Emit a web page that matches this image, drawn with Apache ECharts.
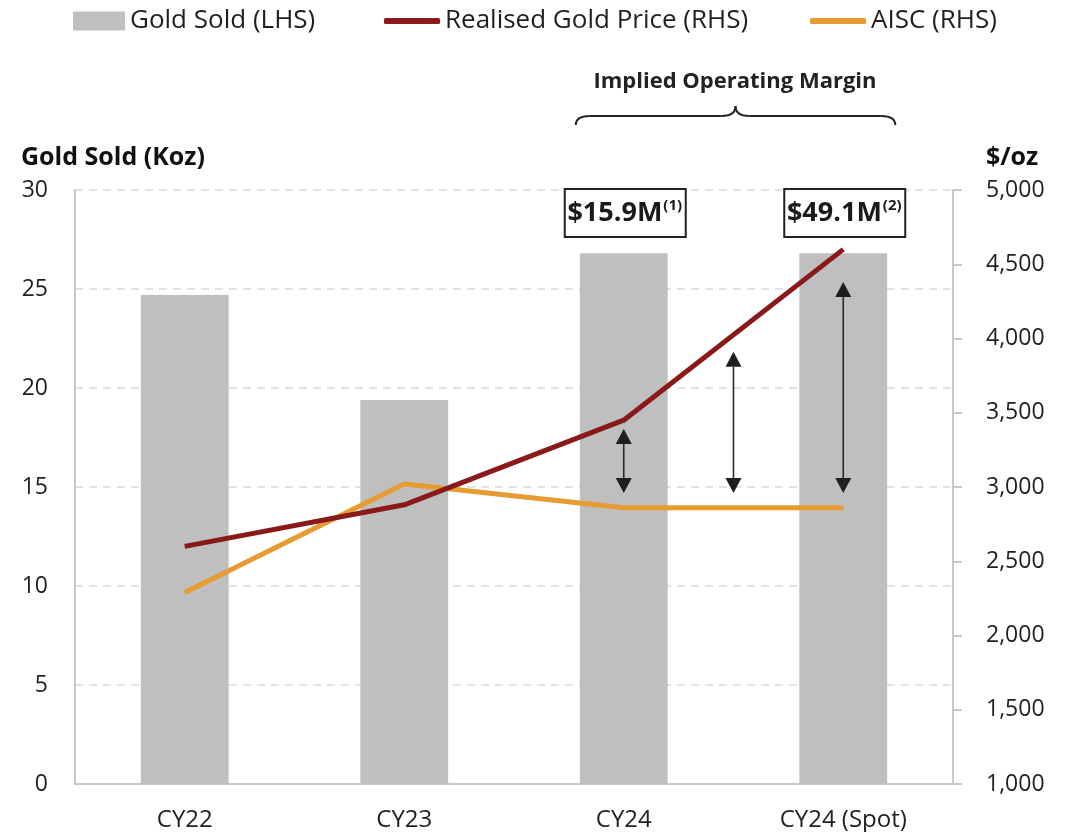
<!DOCTYPE html>
<html>
<head>
<meta charset="utf-8">
<script src="https://cdn.jsdelivr.net/npm/echarts@6/dist/echarts.min.js"></script>
<style>
html,body{margin:0;padding:0;background:#fff;}
#main{width:1069px;height:832px;}
</style>
</head>
<body>
<div id="main"></div>
<script>
// data
var years = ['CY22', 'CY23', 'CY24', 'CY24 (Spot)'];
var goldSold = [24.7, 19.4, 26.8, 26.8];          // Koz, LHS
var goldPrice = [2600, 2880, 3450, 4600];         // $/oz, RHS
var aisc = [2290, 3020, 2860, 2860];              // $/oz, RHS
var leftTicks = {min: 0, max: 30, step: 5};
var rightTicks = {min: 1000, max: 5000, step: 500};
// margin arrows: x position as category index, from AISC to price
var arrowX = [2, 2.5, 3];
var arrowLow = [2960, 2960, 2960];
var arrowHigh = [3390, 3910, 4380];
// margin boxes
var marginIdx = [2, 3];
var marginVal = ['$15.9M', '$49.1M'];
var marginNote = ['(1)', '(2)'];

var FONT = 'Open Sans';
var TXT = '#1f1f1f';
var RED = '#8a1919';
var ORANGE = '#e69c32';
var GREY = '#bfbfbf';

var chart = echarts.init(document.getElementById('main'));

var option = {
  animation: false,
  textStyle: {fontFamily: FONT},
  title: [
    {text: 'Gold Sold (Koz)', left: 21, top: 145, padding: 0,
     textStyle: {fontFamily: FONT, fontSize: 25, fontWeight: 'bold', color: '#111'}},
    {text: '$/oz', left: 986, top: 145, padding: 0,
     textStyle: {fontFamily: FONT, fontSize: 25, fontWeight: 'bold', color: '#111'}},
    {text: 'Implied Operating Margin', left: 735, textAlign: 'center', top: 71, padding: 0,
     textStyle: {fontFamily: FONT, fontSize: 22, fontWeight: 'bold', color: '#222'}}
  ],
  legend: [
    {data: [{name: 'Gold Sold (LHS)', icon: 'rect'}], left: 73, top: 8, padding: 0,
     itemWidth: 52, itemHeight: 19, textStyle: {fontSize: 26, color: TXT, fontFamily: FONT}},
    {data: [{name: 'Realised Gold Price (RHS)', icon: 'roundRect'}], left: 384, top: 8, padding: 0,
     itemWidth: 56, itemHeight: 6, textStyle: {fontSize: 26, color: TXT, fontFamily: FONT}},
    {data: [{name: 'AISC (RHS)', icon: 'roundRect'}], left: 810, top: 8, padding: 0,
     itemWidth: 56, itemHeight: 6, textStyle: {fontSize: 26, color: TXT, fontFamily: FONT}}
  ],
  grid: {left: 75, right: 116, top: 190, bottom: 47, containLabel: false},
  xAxis: {
    type: 'category',
    data: years,
    axisLine: {lineStyle: {color: '#c8c8c8', width: 2}},
    axisTick: {show: false},
    axisLabel: {fontSize: 24, color: TXT, margin: 24, fontFamily: FONT}
  },
  yAxis: [
    {
      type: 'value', min: leftTicks.min, max: leftTicks.max, interval: leftTicks.step,
      axisLine: {show: true, lineStyle: {color: '#c8c8c8', width: 2}},
      axisTick: {show: false},
      axisLabel: {fontSize: 23, color: TXT, margin: 27, fontFamily: FONT},
      splitLine: {show: true, lineStyle: {color: '#d9d9d9', type: [8, 6], width: 1.5}}
    },
    {
      type: 'value', position: 'right', min: rightTicks.min, max: rightTicks.max, interval: rightTicks.step,
      axisLine: {show: true, lineStyle: {color: '#c8c8c8', width: 2}},
      axisTick: {show: true, inside: false, length: 9, lineStyle: {color: '#c8c8c8', width: 2}},
      axisLabel: {fontSize: 23, color: TXT, margin: 33, fontFamily: FONT,
        formatter: function (v) { return v.toLocaleString('en-US'); }},
      splitLine: {show: false}
    }
  ],
  series: [
    {name: 'Gold Sold (LHS)', type: 'bar', data: goldSold, barWidth: '40%',
     itemStyle: {color: GREY}},
    {name: 'Realised Gold Price (RHS)', type: 'line', yAxisIndex: 1, data: goldPrice,
     showSymbol: false, symbol: 'none', lineStyle: {color: RED, width: 5}, itemStyle: {color: RED}, z: 4},
    {name: 'AISC (RHS)', type: 'line', yAxisIndex: 1, data: aisc,
     showSymbol: false, symbol: 'none', lineStyle: {color: ORANGE, width: 5}, itemStyle: {color: ORANGE}, z: 3}
  ]
};
chart.setOption(option);

// pixel x for a (possibly fractional) category index
function catX(i) {
  var a = chart.convertToPixel({xAxisIndex: 0}, years[Math.floor(i)]);
  if (i === Math.floor(i)) return a;
  var b = chart.convertToPixel({xAxisIndex: 0}, years[Math.ceil(i)]);
  return a + (b - a) * (i - Math.floor(i));
}
function rightY(v) { return chart.convertToPixel({yAxisIndex: 1}, v); }

var g = [];
// arrows
for (var k = 0; k < arrowX.length; k++) {
  var x = catX(arrowX[k]);
  var yTop = rightY(arrowHigh[k]);
  var yBot = rightY(arrowLow[k]);
  var ah = 15, aw = 8;
  g.push({type: 'line', z: 10, shape: {x1: x, y1: yTop + ah, x2: x, y2: yBot - ah},
          style: {stroke: '#2a2a2a', lineWidth: 1.6}});
  g.push({type: 'polygon', z: 10, shape: {points: [[x, yTop], [x - aw, yTop + ah], [x + aw, yTop + ah]]},
          style: {fill: '#1f1f1f'}});
  g.push({type: 'polygon', z: 10, shape: {points: [[x, yBot], [x - aw, yBot - ah], [x + aw, yBot - ah]]},
          style: {fill: '#1f1f1f'}});
}
// margin boxes
for (var m = 0; m < marginIdx.length; m++) {
  var cx = catX(marginIdx[m]);
  g.push({type: 'rect', z: 10, shape: {x: cx - 59, y: 189, width: 121, height: 48},
          style: {fill: '#fff', stroke: '#222', lineWidth: 2}});
  g.push({type: 'text', z: 11, x: cx + 1, y: 213,
          style: {text: '{a|' + marginVal[m] + '}{s|' + marginNote[m] + '}', align: 'center', verticalAlign: 'middle',
            rich: {
              a: {fontFamily: FONT, fontSize: 27, fontWeight: 'bold', fill: '#1a1a1a', color: '#1a1a1a'},
              s: {fontFamily: FONT, fontSize: 15, fontWeight: 'bold', fill: '#1a1a1a', color: '#1a1a1a', verticalAlign: 'top', padding: [0, 0, 14, 1]}
            }}});
}
// curly brace over the margin columns, built from curves and lines
var bl = catX(2) - 48, br = catX(3) + 52, bm = (bl + br) / 2;
var bs = {stroke: '#222', lineWidth: 2, fill: null};
g.push({type: 'bezierCurve', z: 10, shape: {x1: bl, y1: 125, cpx1: bl, cpy1: 116, x2: bl + 14, y2: 116}, style: bs});
g.push({type: 'line', z: 10, shape: {x1: bl + 14, y1: 116, x2: bm - 14, y2: 116}, style: bs});
g.push({type: 'bezierCurve', z: 10, shape: {x1: bm - 14, y1: 116, cpx1: bm, cpy1: 116, x2: bm, y2: 106}, style: bs});
g.push({type: 'bezierCurve', z: 10, shape: {x1: bm, y1: 106, cpx1: bm, cpy1: 116, x2: bm + 14, y2: 116}, style: bs});
g.push({type: 'line', z: 10, shape: {x1: bm + 14, y1: 116, x2: br - 14, y2: 116}, style: bs});
g.push({type: 'bezierCurve', z: 10, shape: {x1: br - 14, y1: 116, cpx1: br, cpy1: 116, x2: br, y2: 125}, style: bs});

chart.setOption({graphic: g});
</script>
</body>
</html>
